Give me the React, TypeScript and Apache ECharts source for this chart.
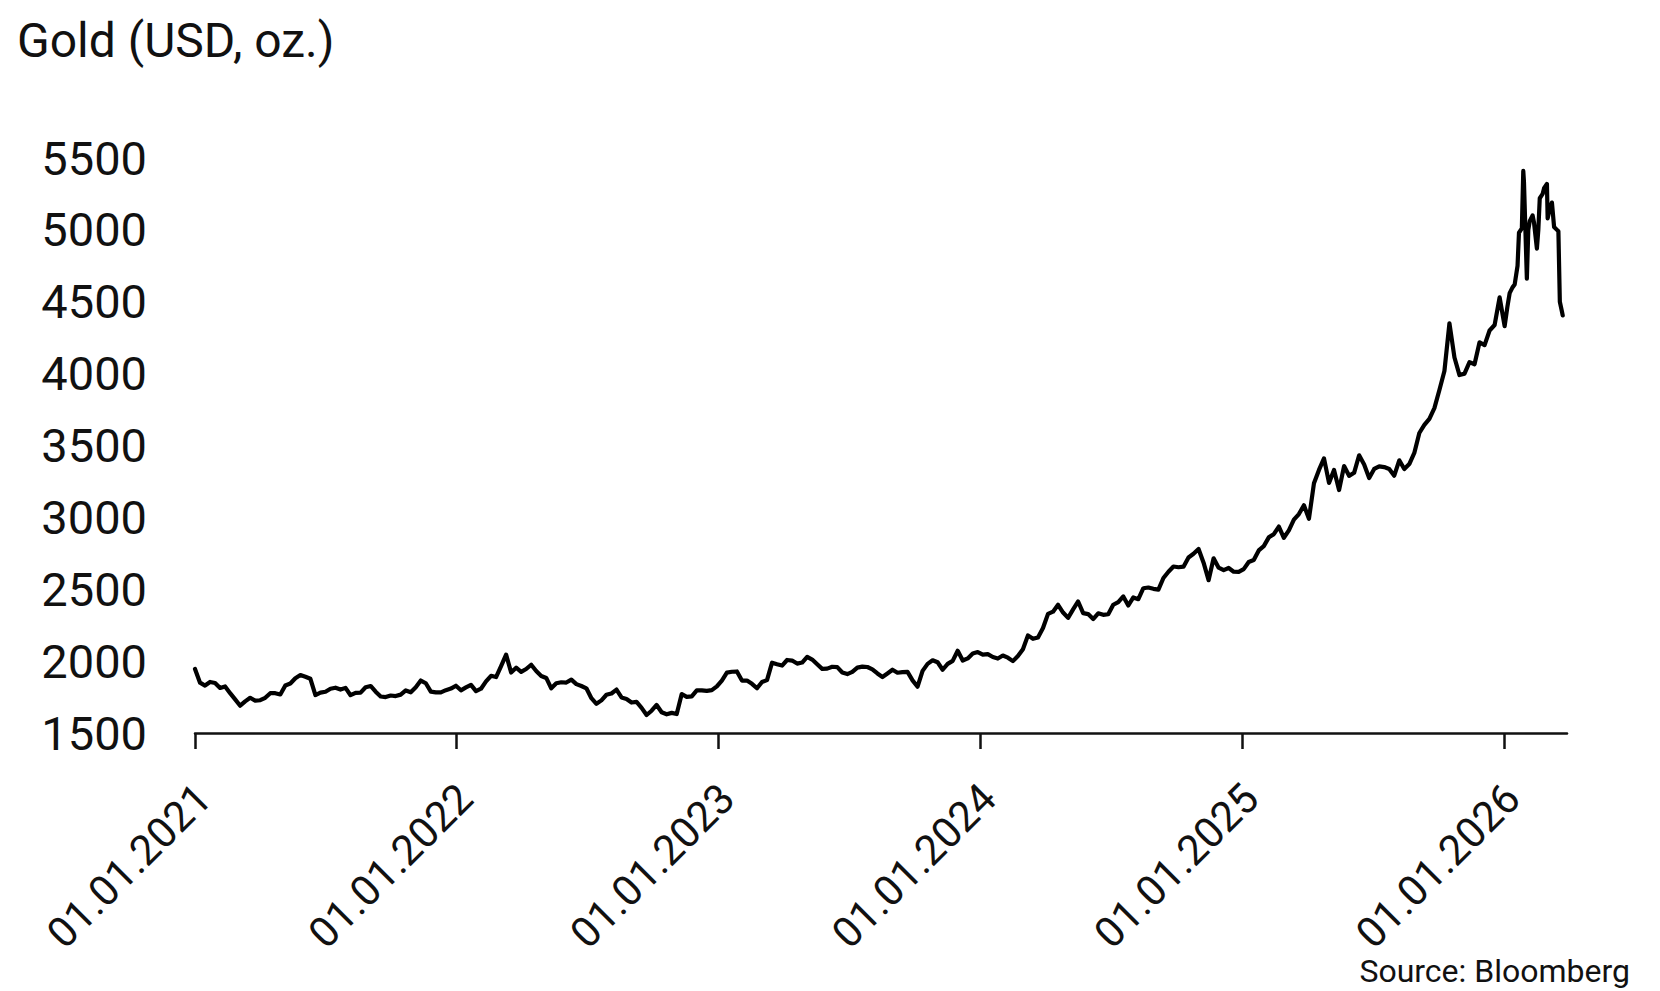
import React, { useEffect, useRef } from "react";
import * as echarts from "echarts";

// ---------- chart texts ----------
const TITLE = "Gold (USD, oz.)";
const SOURCE = "Source: Bloomberg";

// ---------- axes ----------
const Y_MIN = 1500;
const Y_MAX = 5500;
const Y_STEP = 500;
const X_MIN = "2021-01-01";
const X_MAX = "2026-03-30";
const X_TICKS = ["2021-01-01", "2022-01-01", "2023-01-01", "2024-01-01", "2025-01-01", "2026-01-01"];

// ---------- data: weekly (Friday) gold price, USD/oz ----------
// first weekly date of each year's list
const firstWeek2021 = "2021-01-01";
const firstWeek2022 = "2022-01-07";
const firstWeek2023 = "2023-01-06";
const firstWeek2024 = "2024-01-05";
const firstWeek2025 = "2025-01-03";

const gold2021 = [
  1945, 1850, 1830, 1855, 1848, 1813, 1824, 1777, 1734, 1690, 1720, 1745, 1725,
  1728, 1745, 1777, 1777, 1768, 1831, 1844, 1881, 1903, 1891, 1877, 1764, 1781,
  1787, 1808, 1815, 1802, 1814, 1763, 1779, 1781, 1818, 1827, 1787, 1754, 1750,
  1761, 1757, 1767, 1796, 1783, 1818, 1865, 1846, 1788, 1783, 1783, 1798, 1809, 1829,
];
const gold2022 = [
  1797, 1817, 1835, 1791, 1808, 1859, 1898, 1889, 1966, 2045, 1921, 1954, 1925,
  1945, 1975, 1931, 1897, 1883, 1811, 1846, 1853, 1851, 1871, 1840, 1827, 1811,
  1742, 1703, 1727, 1766, 1775, 1802, 1747, 1737, 1712, 1716, 1675, 1625, 1655,
  1695, 1644, 1630, 1640, 1632, 1771, 1751, 1755, 1797, 1797, 1793, 1798, 1824,
];
const gold2023 = [
  1865, 1920, 1926, 1928, 1865, 1865, 1842, 1811, 1855, 1868, 1989, 1978, 1969,
  2008, 2004, 1983, 1990, 2030, 2011, 1978, 1946, 1948, 1961, 1958, 1921, 1910,
  1925, 1955, 1962, 1959, 1943, 1914, 1889, 1914, 1940, 1919, 1924, 1925, 1866,
  1822, 1932, 1981, 2006, 1992, 1940, 1981, 2002, 2072, 2004, 2019, 2053, 2063,
];
const gold2024 = [
  2045, 2049, 2029, 2018, 2039, 2024, 2000, 2035, 2083, 2179, 2155, 2165, 2230,
  2329, 2344, 2392, 2338, 2301, 2360, 2415, 2334, 2327, 2293, 2333, 2322, 2326,
  2392, 2411, 2450, 2387, 2443, 2431, 2507, 2512, 2503, 2497, 2578, 2622, 2658,
  2653, 2657, 2721, 2747, 2780, 2685, 2563, 2715, 2650, 2633, 2648, 2622, 2621,
];
const gold2025 = [
  2640, 2690, 2703, 2770, 2800, 2861, 2883, 2936, 2858, 2910, 2984, 3023, 3084,
  2990, 3237, 3330, 3410, 3240, 3330, 3190, 3357, 3289, 3310, 3432, 3368, 3274,
  3337, 3355, 3350, 3337, 3290, 3397, 3336, 3371, 3448, 3587, 3643, 3685, 3760,
  3886, 4018, 4350, 4112, 3990, 4000, 4080, 4065, 4218, 4198, 4300, 4338, 4530,
];
// 2026: daily-ish points
const dates2026 = [
  "2026-01-02", "2026-01-06", "2026-01-09", "2026-01-13", "2026-01-16", "2026-01-20",
  "2026-01-22", "2026-01-26", "2026-01-28", "2026-01-29", "2026-02-02", "2026-02-04",
  "2026-02-06", "2026-02-10", "2026-02-12", "2026-02-16", "2026-02-18", "2026-02-20",
  "2026-02-24", "2026-02-26", "2026-03-02", "2026-03-03", "2026-03-06", "2026-03-09",
  "2026-03-12", "2026-03-16", "2026-03-18", "2026-03-20", "2026-03-23", "2026-03-24",
];
const gold2026 = [
  4330, 4470, 4560, 4600, 4620, 4750,
  4980, 5010, 5410, 5330, 4660, 5000,
  5060, 5100, 5050, 4870, 5000, 5220,
  5250, 5290, 5320, 5080, 5150, 5190,
  5020, 5000, 4990, 4500, 4430, 4405,
];

function parseDay(s: string): Date {
  const [y, m, d] = s.split("-").map(Number);
  return new Date(y, m - 1, d);
}

function weekly(first: string, values: number[]): [number, number][] {
  const d0 = parseDay(first);
  return values.map((v, i) => [
    new Date(d0.getFullYear(), d0.getMonth(), d0.getDate() + 7 * i).getTime(),
    v,
  ]);
}

const seriesData: [number, number][] = [
  ...weekly(firstWeek2021, gold2021),
  ...weekly(firstWeek2022, gold2022),
  ...weekly(firstWeek2023, gold2023),
  ...weekly(firstWeek2024, gold2024),
  ...weekly(firstWeek2025, gold2025),
  ...dates2026.map((d, i) => [parseDay(d).getTime(), gold2026[i]] as [number, number]),
];

// rotated labels sit slightly along their own direction from the tick
const LABEL_SHIFT_DAYS = 12;

const fmtYearStart = (v: number) => {
  const d = new Date(v);
  return "01.01." + d.getFullYear();
};

const FONT = "Roboto";
const INK = "#111111";

export default function App() {
  const ref = useRef<HTMLDivElement>(null);

  useEffect(() => {
    if (!ref.current) return;
    const chart = echarts.init(ref.current, undefined, { renderer: "svg" });
    const tickTs = X_TICKS.map((s) => parseDay(s).getTime());
    const labelTs = X_TICKS.map((s) => {
      const d = parseDay(s);
      return new Date(d.getFullYear(), d.getMonth(), d.getDate() + LABEL_SHIFT_DAYS).getTime();
    });

    chart.setOption({
      animation: false,
      backgroundColor: "#ffffff",
      grid: {
        left: 195,
        right: 93,
        top: 158,
        bottom: 258,
        containLabel: false,
        outerBoundsMode: "none",
      },
      xAxis: {
        type: "value",
        min: parseDay(X_MIN).getTime(),
        max: parseDay(X_MAX).getTime(),
        axisLine: { show: true, onZero: false, lineStyle: { color: INK, width: 2.5 } },
        axisTick: {
          show: true,
          length: 16,
          customValues: tickTs,
          lineStyle: { color: INK, width: 2.5 },
        },
        axisLabel: {
          show: true,
          customValues: labelTs,
          rotate: 45,
          margin: 58,
          color: INK,
          fontFamily: FONT,
          fontWeight: 400,
          fontSize: 42,
          formatter: (v: number) => fmtYearStart(v),
        },
        splitLine: { show: false },
      },
      yAxis: {
        type: "value",
        min: Y_MIN,
        max: Y_MAX,
        interval: Y_STEP,
        axisLine: { show: false },
        axisTick: { show: false },
        splitLine: { show: false },
        axisLabel: {
          margin: 48,
          color: INK,
          fontFamily: FONT,
          fontWeight: 400,
          fontSize: 47,
          formatter: (v: number) => String(v),
        },
      },
      series: [
        {
          type: "line",
          data: seriesData,
          showSymbol: false,
          symbol: "none",
          lineStyle: { color: "#000000", width: 4.2, join: "round", cap: "round" },
        },
      ],
      graphic: [
        {
          type: "text",
          x: 17,
          y: 40,
          style: {
            text: TITLE,
            fill: INK,
            fontFamily: FONT,
            fontWeight: 400,
            fontSize: 48,
            textAlign: "left",
            textVerticalAlign: "middle",
          },
        },
        {
          type: "text",
          x: 1630,
          y: 971,
          style: {
            text: SOURCE,
            fill: INK,
            fontFamily: FONT,
            fontWeight: 400,
            fontSize: 32,
            textAlign: "right",
            textVerticalAlign: "middle",
          },
        },
      ],
    });

    return () => chart.dispose();
  }, []);

  return (
    <div
      ref={ref}
      style={{
        position: "fixed",
        left: 0,
        top: 0,
        width: 1660,
        height: 991,
        background: "#ffffff",
      }}
    />
  );
}
